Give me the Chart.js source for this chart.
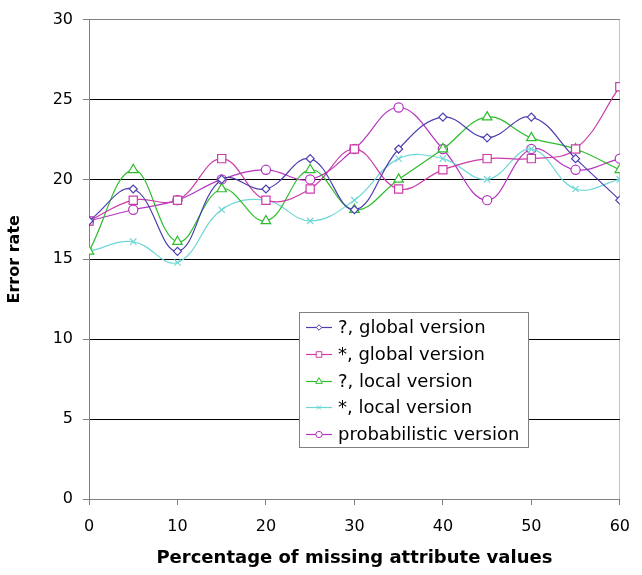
<!DOCTYPE html>
<html>
<head>
<meta charset="utf-8">
<script src="https://cdn.jsdelivr.net/npm/chart.js@4/dist/chart.umd.min.js"></script>
<style>
  html, body { margin: 0; padding: 0; background: #fff; }
  #wrap { width: 642px; height: 575px; position: relative; }
</style>
</head>
<body>
<div id="wrap"><canvas id="c" width="642" height="575"></canvas></div>
<script>
// Percentage of missing attribute values (x positions of the measurements)
const missingPct = [0, 5, 10, 15, 20, 25, 30, 35, 40, 45, 50, 55, 60];

// Error rates for each approach
const qGlobal = [17.4, 19.4, 15.5, 20.0, 19.4, 21.3, 18.1, 21.9, 23.9, 22.6, 23.9, 21.3, 18.7];
const sGlobal = [17.4, 18.7, 18.7, 21.3, 18.7, 19.4, 21.9, 19.4, 20.6, 21.3, 21.3, 21.9, 25.8];
const qLocal  = [15.5, 20.6, 16.1, 19.4, 17.4, 20.6, 18.1, 20.0, 21.9, 23.9, 22.6, 21.9, 20.6];
const sLocal  = [15.5, 16.1, 14.8, 18.1, 18.7, 17.4, 18.7, 21.3, 21.3, 20.0, 21.9, 19.4, 20.0];
const probab  = [17.4, 18.1, 18.7, 20.0, 20.6, 20.0, 21.9, 24.5, 21.9, 18.7, 21.9, 20.6, 21.3];

const seriesLabels = ['?, global version', '*, global version', '?, local version', '*, local version', 'probabilistic version'];

// Axis ranges and tick steps
const yTicks = [0, 5, 10, 15, 20, 25, 30];
const xTicks = [0, 10, 20, 30, 40, 50, 60];

const FONT = '"DejaVu Sans", Verdana, sans-serif';
Chart.defaults.font.family = FONT;
Chart.defaults.color = '#000';

const pairs = ys => ys.map((v, i) => ({ x: missingPct[i], y: v }));

function series(label, ys, color, style, radius) {
  return {
    label,
    data: pairs(ys),
    borderColor: color,
    borderWidth: 1.2,
    backgroundColor: '#fff',
    pointStyle: style,
    pointRadius: radius,
    pointBorderColor: color,
    pointBackgroundColor: '#fff',
    pointBorderWidth: 1.2,
    tension: 0.4,
    fill: false
  };
}

const datasets = [
  series(seriesLabels[0], qGlobal, '#4c40b0', 'rectRot', 4),
  series(seriesLabels[1], sGlobal, '#cc3ca8', 'rect', 5.8),
  series(seriesLabels[2], qLocal, '#2ebd2e', 'triangle', 5.5),
  series(seriesLabels[3], sLocal, '#6fd6d6', 'crossRot', 4.5),
  series(seriesLabels[4], probab, '#b535c0', 'circle', 4.6)
];

// Small marker painter used for the boxed legend
function marker(ctx, style, r, x, y) {
  if (Chart.helpers && Chart.helpers.drawPoint) {
    Chart.helpers.drawPoint(ctx, { pointStyle: style, radius: r, borderWidth: 1, rotation: 0 }, x, y);
    return;
  }
  ctx.beginPath();
  if (style === 'circle') ctx.arc(x, y, r, 0, Math.PI * 2);
  else if (style === 'rect') { const s = r * Math.SQRT1_2; ctx.rect(x - s, y - s, 2 * s, 2 * s); }
  else if (style === 'rectRot') { ctx.moveTo(x, y - r); ctx.lineTo(x + r, y); ctx.lineTo(x, y + r); ctx.lineTo(x - r, y); ctx.closePath(); }
  else if (style === 'triangle') { ctx.moveTo(x, y - r); ctx.lineTo(x + r * 0.866, y + r / 2); ctx.lineTo(x - r * 0.866, y + r / 2); ctx.closePath(); }
  else if (style === 'crossRot') { const s = r * Math.SQRT1_2; ctx.moveTo(x - s, y - s); ctx.lineTo(x + s, y + s); ctx.moveTo(x + s, y - s); ctx.lineTo(x - s, y + s); }
  if (style !== 'crossRot') ctx.fill();
  ctx.stroke();
}

const boxedLegend = {
  id: 'boxedLegend',
  afterDatasetsDraw(chart) {
    const ctx = chart.ctx;
    const bx = 299.5, by = 312.5, bw = 229, bh = 135;
    ctx.save();
    ctx.fillStyle = '#fff';
    ctx.fillRect(bx, by, bw, bh);
    ctx.strokeStyle = '#808080';
    ctx.lineWidth = 1;
    ctx.strokeRect(bx, by, bw, bh);
    ctx.font = '18px ' + FONT;
    ctx.textBaseline = 'middle';
    ctx.textAlign = 'left';
    chart.data.datasets.forEach((ds, i) => {
      const cy = Math.round(327 + i * 26.8) + 0.5;
      ctx.strokeStyle = ds.borderColor;
      ctx.lineWidth = 1.2;
      ctx.beginPath();
      ctx.moveTo(306, cy);
      ctx.lineTo(332, cy);
      ctx.stroke();
      ctx.fillStyle = '#fff';
      ctx.lineWidth = 1;
      marker(ctx, ds.pointStyle, ds.pointRadius * 0.68, 319, cy);
      ctx.fillStyle = '#000';
      ctx.fillText(ds.label, 338, cy + 0.5);
    });
    ctx.restore();
  }
};

new Chart(document.getElementById('c'), {
  type: 'line',
  data: { datasets },
  plugins: [boxedLegend],
  options: {
    responsive: false,
    animation: false,
    events: [],
    layout: { padding: { top: 11, right: 13, left: 0, bottom: 0 } },
    plugins: {
      legend: { display: false },
      tooltip: { enabled: false }
    },
    scales: {
      x: {
        type: 'linear',
        min: xTicks[0],
        max: xTicks[xTicks.length - 1],
        afterFit: s => { s.height = 76; },
        afterBuildTicks: s => { s.ticks = xTicks.map(v => ({ value: v })); },
        ticks: { padding: 12, font: { size: 16 }, color: '#000', maxRotation: 0 },
        grid: {
          drawOnChartArea: true,
          color: c => (c.tick && c.tick.value === 60) ? '#c4c4c4' : 'rgba(0,0,0,0)',
          tickColor: '#808080',
          tickLength: 6,
          lineWidth: 1
        },
        border: { color: '#808080', width: 1 },
        title: {
          display: true,
          text: 'Percentage of missing attribute values',
          font: { size: 18, weight: 'bold' },
          color: '#000',
          padding: { top: 0, bottom: 6 }
        }
      },
      y: {
        min: yTicks[0],
        max: yTicks[yTicks.length - 1],
        afterFit: s => { s.width = 89; },
        afterBuildTicks: s => { s.ticks = yTicks.map(v => ({ value: v })); },
        ticks: { padding: 10, font: { size: 16 }, color: '#000' },
        grid: {
          color: c => (c.tick && (c.tick.value === 30 || c.tick.value === 0)) ? '#808080' : '#000',
          tickColor: '#808080',
          tickLength: 6,
          lineWidth: 1
        },
        border: { color: '#808080', width: 1 },
        title: {
          display: true,
          text: 'Error rate',
          font: { size: 16, weight: 'bold' },
          color: '#000',
          padding: { top: 5, bottom: 0 }
        }
      }
    }
  }
});
</script>
</body>
</html>
